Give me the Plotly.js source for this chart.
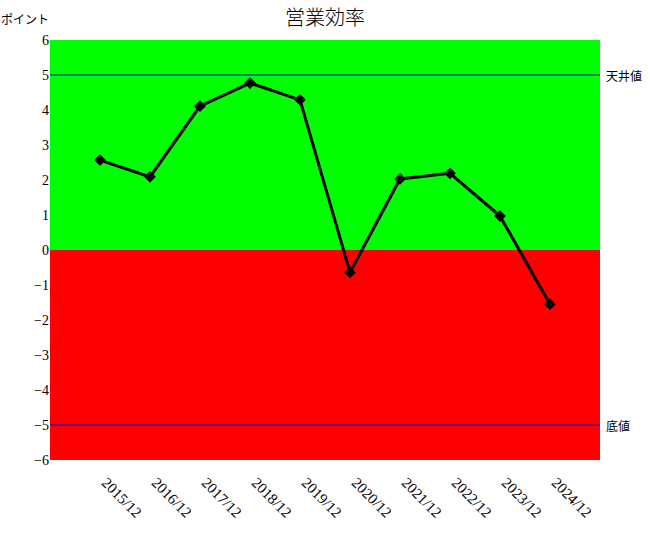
<!DOCTYPE html>
<html>
<head>
<meta charset="utf-8">
<script src="https://cdn.plot.ly/plotly-3.0.1.min.js"></script>
<style>
  body { margin: 0; background: #fff; }
  #chart { width: 650px; height: 540px; }
</style>
</head>
<body>
<div id="chart"></div>
<script>
// 期間と営業効率のポイント
var periods = ['2015/12', '2016/12', '2017/12', '2018/12', '2019/12',
               '2020/12', '2021/12', '2022/12', '2023/12', '2024/12'];
var points = [2.57, 2.09, 4.11, 4.77, 4.29, -0.64, 2.03, 2.19, 0.97, -1.55];

var ceiling = 5;   // 天井値
var floor = -5;    // 底値
var yTicks = [6, 5, 4, 3, 2, 1, 0, -1, -2, -3, -4, -5, -6];

var baseFont = 'Liberation Serif, "Noto Sans CJK JP", serif';
var jpFont = '"Noto Sans CJK JP", sans-serif';

var data = [{
    x: periods,
    y: points,
    type: 'scatter',
    mode: 'lines+markers',
    line: { color: '#000000', width: 3 },
    marker: { symbol: 'diamond', size: 9, color: '#000000' },
    hoverinfo: 'x+y'
}];

var layout = {
    width: 650,
    height: 540,
    margin: { l: 50, r: 50, t: 40, b: 80 },
    paper_bgcolor: '#ffffff',
    plot_bgcolor: '#ffffff',
    font: { family: baseFont, size: 12, color: '#000000' },
    showlegend: false,
    title: {
        text: '営業効率',
        x: 0.5, xanchor: 'center',
        y: 0.966, yanchor: 'middle',
        font: { family: jpFont, size: 20, color: '#000000', weight: 300 }
    },
    xaxis: {
        type: 'category',
        range: [-1, periods.length],
        showgrid: false,
        zeroline: false,
        showline: false,
        ticks: '',
        tickangle: 45,
        ticklabelstandoff: 10,
        ticklabelshift: 6,
        tickfont: { family: baseFont, size: 15 }
    },
    yaxis: {
        range: [-6, 6],
        tickvals: yTicks,
        showgrid: false,
        zeroline: false,
        showline: false,
        ticks: '',
        tickfont: { family: baseFont, size: 14 }
    },
    shapes: [
        { type: 'rect', xref: 'paper', yref: 'y', x0: 0, x1: 1, y0: 0, y1: 6,
          fillcolor: '#00ff00', line: { width: 0 }, layer: 'below' },
        { type: 'rect', xref: 'paper', yref: 'y', x0: 0, x1: 1, y0: -6, y1: 0,
          fillcolor: '#ff0000', line: { width: 0 }, layer: 'below' },
        { type: 'line', xref: 'paper', yref: 'y', x0: 0, x1: 1, y0: ceiling, y1: ceiling,
          line: { color: '#0000dd', width: 1 }, layer: 'below' },
        { type: 'line', xref: 'paper', yref: 'y', x0: 0, x1: 1, y0: floor, y1: floor,
          line: { color: '#0000dd', width: 1 }, layer: 'below' }
    ],
    annotations: [
        { text: 'ポイント', xref: 'paper', yref: 'paper', x: -0.092, y: 1.05,
          xanchor: 'left', yanchor: 'middle', showarrow: false,
          font: { family: jpFont, size: 12 } },
        { text: '天井値', xref: 'paper', yref: 'y', x: 1.008, y: ceiling,
          xanchor: 'left', yanchor: 'middle', showarrow: false,
          font: { family: jpFont, size: 12 } },
        { text: '底値', xref: 'paper', yref: 'y', x: 1.008, y: floor,
          xanchor: 'left', yanchor: 'middle', showarrow: false,
          font: { family: jpFont, size: 12 } }
    ]
};

Plotly.newPlot('chart', data, layout, { displayModeBar: false });
</script>
</body>
</html>
